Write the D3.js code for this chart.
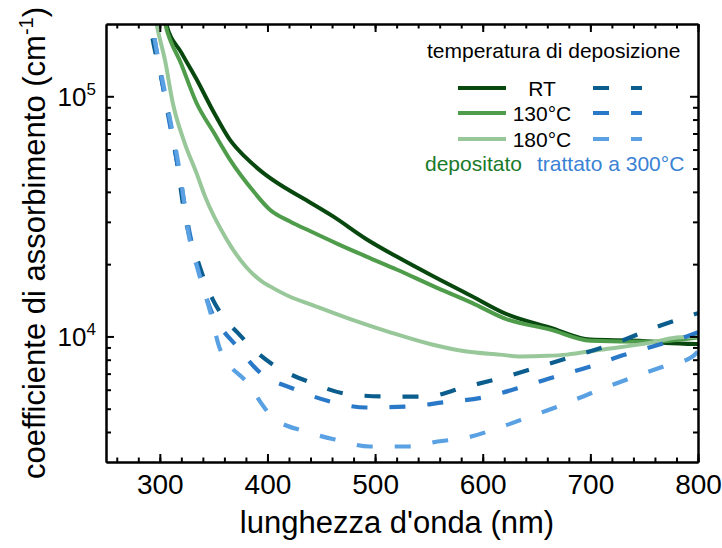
<!DOCTYPE html>
<html>
<head>
<meta charset="utf-8">
<script src="https://cdn.jsdelivr.net/npm/d3@7"></script>
<style>
  html, body { margin: 0; padding: 0; background: #fff; }
  svg { display: block; font-family: Arial, "Liberation Sans", sans-serif; }
</style>
</head>
<body>
<svg id="chart" width="722" height="548"></svg>
<script>
// Absorption coefficient (cm^-1) vs wavelength (nm), as-deposited (solid) and annealed at 300 °C (dashed)
const depositedRT  = [[303,230000],[306,200000],[320,152000],[334,118000],[350,86000],[365,66000],[380,55500],[396,48000],[414,42200],[433,37600],[461,31600],[492,25400],[520,21500],[554,17800],[590,14700],[622,12400],[662,10900],[700,9700],[746,9600],[770,9400],[800,9300]];
const deposited130 = [[302,230000],[305,200000],[320,136000],[334,94000],[350,70800],[365,54600],[387,40200],[402,33800],[421,30100],[440,27400],[465,24300],[492,21500],[520,19000],[554,16200],[590,13800],[622,11800],[662,10700],[700,9600],[755,9500],[800,9900]];
const deposited180 = [[294,240000],[297,200000],[305,140000],[312,94000],[323,64000],[334,48000],[342,38300],[362,25400],[380,19500],[396,16800],[402,16200],[420,14700],[440,13600],[477,11800],[514,10400],[551,9300],[585,8650],[616,8400],[635,8250],[660,8300],[678,8400],[709,8800],[755,9400],[780,9900],[800,10000]];
const annealedRT   = [[288,250000],[291,200000],[303,110000],[316,53000],[323,32200],[334,21500],[349,14300],[360,11900],[372,10400],[390,8600],[405,7640],[440,6430],[477,5730],[511,5620],[548,5620],[582,6130],[619,6750],[653,7500],[690,8410],[725,9440],[758,10800],[800,12500]];
const annealed130  = [[289,250000],[292.7,200000],[305,97000],[319,45000],[328,26600],[337,18100],[347,13000],[358,10700],[370,9260],[393,7080],[426,6010],[458,5360],[492,5060],[530,5110],[563,5310],[600,5570],[635,6130],[665,6750],[700,7500],[730,8340],[758,9080],[792,10100],[800,10400]];
const annealed180  = [[290,250000],[293,200000],[306,97000],[321,41000],[326,27900],[336,18500],[347,12600],[356,8840],[381,6430],[405,4600],[435,4020],[463,3720],[495,3480],[531,3480],[558,3650],[585,3790],[616,4180],[644,4640],[675,5210],[702,5840],[734,6620],[768,7500],[795,8250],[800,8660]];

const xMajorTicks = [300, 400, 500, 600, 700, 800];
const xMinorTicks = d3.range(260, 801, 20);
const yMajorTicks = [1e4, 1e5];
const yExponents  = ["4", "5"];
const yMinorTicks = [4e3,5e3,6e3,7e3,8e3,9e3,2e4,3e4,4e4,5e4,6e4,7e4,8e4,9e4];
const legendLabels = ["RT", "130°C", "180°C"];

const solidColors  = ["#08480f", "#4f9c4b", "#98c79a"];
const dashedColors = ["#0a5d8c", "#2a78c8", "#5aa1e4"];

const svg = d3.select("#chart");
const plotLeft = 106, plotRight = 698, plotTop = 24, plotBottom = 462;

const x = d3.scaleLinear().domain([250, 800]).range([plotLeft, plotRight]);
const y = d3.scaleLog().domain([3000, 200000]).range([plotBottom, plotTop]);

svg.append("defs").append("clipPath").attr("id", "plot")
  .append("rect").attr("x", plotLeft).attr("y", plotTop)
  .attr("width", plotRight - plotLeft).attr("height", plotBottom - plotTop);

const line = d3.line()
  .x(d => x(d[0])).y(d => y(d[1]))
  .curve(d3.curveMonotoneX);

const curves = svg.append("g").attr("clip-path", "url(#plot)");
[depositedRT, deposited130, deposited180].forEach((s, i) => {
  curves.append("path").datum(s).attr("d", line)
    .attr("fill", "none").attr("stroke", solidColors[i])
    .attr("stroke-width", 4).attr("stroke-linejoin", "round");
});
[annealedRT, annealed130, annealed180].forEach((s, i) => {
  curves.append("path").datum(s).attr("d", line)
    .attr("fill", "none").attr("stroke", dashedColors[i])
    .attr("stroke-width", 4.2).attr("stroke-dasharray", "16,22");
});

// Axes: ticks point inward on all four sides
function styleAxis(g) {
  g.selectAll("path, line").attr("stroke", "#000").attr("stroke-width", 2);
  g.selectAll("text").attr("fill", "#000");
}
svg.append("g").attr("transform", `translate(0,${plotBottom})`)
  .call(d3.axisBottom(x).tickValues(xMinorTicks).tickSize(-4.5).tickSizeOuter(0).tickFormat(""))
  .call(styleAxis);
svg.append("g").attr("transform", `translate(0,${plotBottom})`)
  .call(d3.axisBottom(x).tickValues(xMajorTicks).tickSize(-8).tickSizeOuter(0).tickPadding(12).tickFormat(d3.format("d")))
  .call(styleAxis)
  .call(g => g.selectAll("text").attr("font-size", 28).attr("font-family", "Arial, 'Liberation Sans', sans-serif"));
svg.append("g").attr("transform", `translate(0,${plotTop})`)
  .call(d3.axisTop(x).tickValues(xMinorTicks).tickSize(-4.5).tickSizeOuter(0).tickFormat(""))
  .call(styleAxis);
svg.append("g").attr("transform", `translate(0,${plotTop})`)
  .call(d3.axisTop(x).tickValues(xMajorTicks).tickSize(-8).tickSizeOuter(0).tickFormat(""))
  .call(styleAxis);
svg.append("g").attr("transform", `translate(${plotLeft},0)`)
  .call(d3.axisLeft(y).tickValues(yMinorTicks).tickSize(-5).tickSizeOuter(0).tickFormat(""))
  .call(styleAxis);
svg.append("g").attr("transform", `translate(${plotLeft},0)`)
  .call(d3.axisLeft(y).tickValues(yMajorTicks).tickSize(-8).tickSizeOuter(0).tickFormat(""))
  .call(styleAxis);
svg.append("g").attr("transform", `translate(${plotRight},0)`)
  .call(d3.axisRight(y).tickValues(yMinorTicks).tickSize(-5).tickSizeOuter(0).tickFormat(""))
  .call(styleAxis);
svg.append("g").attr("transform", `translate(${plotRight},0)`)
  .call(d3.axisRight(y).tickValues(yMajorTicks).tickSize(-8).tickSizeOuter(0).tickFormat(""))
  .call(styleAxis);

// Power-of-ten labels on the log axis
yMajorTicks.forEach((v, i) => {
  const t = svg.append("text").attr("x", 96).attr("y", y(v) + 10)
    .attr("text-anchor", "end").attr("font-size", 26).attr("fill", "#000");
  t.append("tspan").text("10");
  t.append("tspan").attr("dy", -11).attr("font-size", 17).text(yExponents[i]);
});

// Axis titles
svg.append("text").attr("x", 397).attr("y", 533)
  .attr("text-anchor", "middle").attr("font-size", 31).attr("fill", "#000")
  .text("lunghezza d'onda (nm)");
const yt = svg.append("text").attr("transform", `translate(45,${(plotTop + plotBottom) / 2}) rotate(-90)`)
  .attr("text-anchor", "middle").attr("font-size", 31).attr("fill", "#000");
yt.append("tspan").text("coefficiente di assorbimento (cm");
yt.append("tspan").attr("dy", -12).attr("font-size", 20).text("-1");
yt.append("tspan").attr("dy", 12).text(")");

// Legend
const lg = svg.append("g").attr("font-size", 21);
lg.append("text").attr("x", 427).attr("y", 58).attr("fill", "#000").text("temperatura di deposizione");
const rowY = [88, 113, 139];
legendLabels.forEach((lab, i) => {
  lg.append("line").attr("x1", 458).attr("x2", 506).attr("y1", rowY[i]).attr("y2", rowY[i])
    .attr("stroke", solidColors[i]).attr("stroke-width", 4);
  lg.append("text").attr("x", 542).attr("y", rowY[i] + 7.5).attr("text-anchor", "middle")
    .attr("fill", "#000").text(lab);
  lg.append("line").attr("x1", 593).attr("x2", 642).attr("y1", rowY[i]).attr("y2", rowY[i])
    .attr("stroke", dashedColors[i]).attr("stroke-width", 4.2).attr("stroke-dasharray", "16,22");
});
lg.append("text").attr("x", 425).attr("y", 171).attr("fill", "#1a7a2a").text("depositato");
lg.append("text").attr("x", 537).attr("y", 171).attr("fill", "#3a82d4").text("trattato a 300°C");
</script>
</body>
</html>
